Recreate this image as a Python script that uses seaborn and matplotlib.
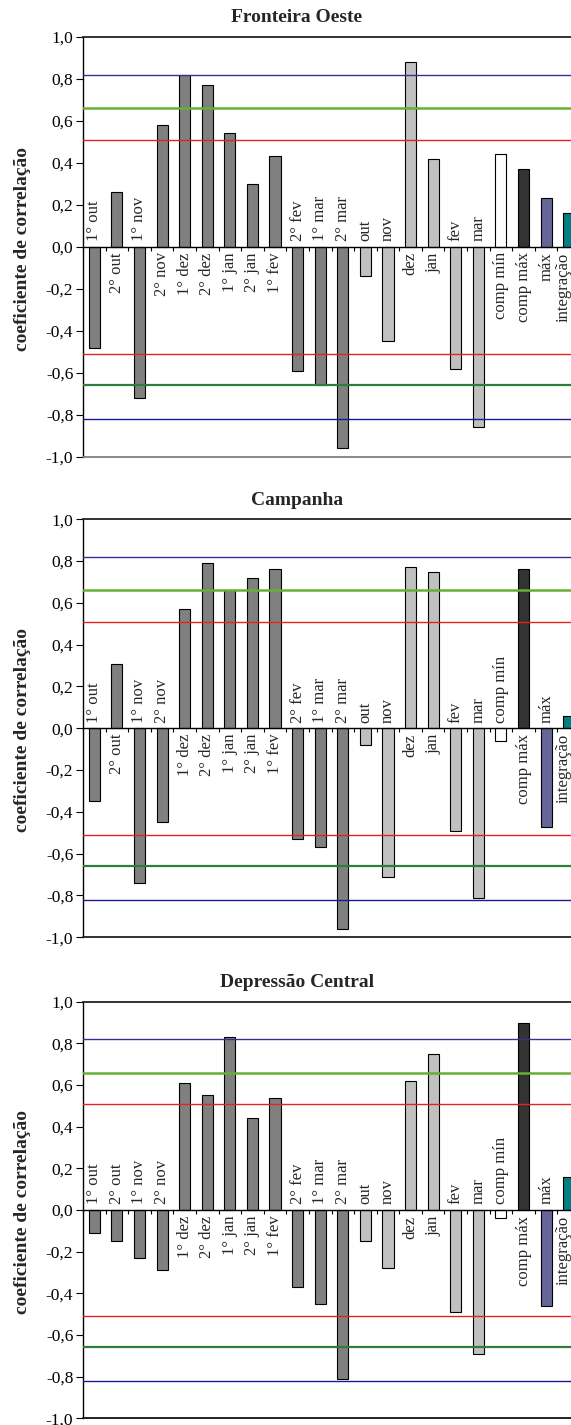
import numpy as np
import pandas as pd
import matplotlib
matplotlib.use("Agg")
import matplotlib.pyplot as plt
import seaborn as sns

# ---- data -------------------------------------------------------------
categorias = ["1° out", "2° out", "1° nov", "2° nov", "1° dez", "2° dez",
              "1° jan", "2° jan", "1° fev", "2° fev", "1° mar", "2° mar",
              "out", "nov", "dez", "jan", "fev", "mar",
              "comp mín", "comp máx", "máx", "integração"]

fronteira_oeste = [-0.48, 0.26, -0.72, 0.58, 0.82, 0.77, 0.54, 0.30, 0.43,
                   -0.59, -0.66, -0.96, -0.14, -0.45, 0.88, 0.42, -0.58,
                   -0.86, 0.44, 0.37, 0.23, 0.16]
campanha = [-0.35, 0.31, -0.74, -0.45, 0.57, 0.79, 0.66, 0.72, 0.76,
            -0.53, -0.57, -0.96, -0.08, -0.71, 0.77, 0.75, -0.49,
            -0.81, -0.06, 0.76, -0.47, 0.06]
depressao_central = [-0.11, -0.15, -0.23, -0.29, 0.61, 0.55, 0.83, 0.44, 0.54,
                     -0.37, -0.45, -0.81, -0.15, -0.28, 0.62, 0.75, -0.49,
                     -0.69, -0.04, 0.90, -0.46, 0.16]

regioes = ["Fronteira Oeste", "Campanha", "Depressão Central"]
series = [fronteira_oeste, campanha, depressao_central]

# significance thresholds of the correlation coefficient
limiares = [0.82, 0.66, 0.51, -0.51, -0.66, -0.82]
yticks = [-1.0, -0.8, -0.6, -0.4, -0.2, 0.0, 0.2, 0.4, 0.6, 0.8, 1.0]

# ---- styles -----------------------------------------------------------
cor_quinzena = "#808080"
cor_mes = "#C0C0C0"
cores_barras = ([cor_quinzena] * 12 + [cor_mes] * 6 +
                ["#FFFFFF", "#333333", "#666699", "#008080"])
paleta = dict(zip(categorias, cores_barras))

cores_limiares = ["#34309A", "#66B032", "#E82020", "#E82020", "#2E7D3A", "#1A1A99"]
larguras_limiares = [1.0, 1.8, 1.0, 1.0, 1.6, 1.0]
cores_base = ["#808080", "#222222", "#111111"]

sns.set_style("white")
plt.rcParams["font.family"] = ["Liberation Serif", "DejaVu Serif"]

W, H = 571, 1425
fig = plt.figure(figsize=(W / 100, H / 100), dpi=100)

# plot-area boxes in pixels: (left, top, right, bottom)
caixas = [(83, 36.7, 580, 456.7),
          (83, 519.3, 580, 937.3),
          (83, 1001.7, 580, 1418.3)]


def fracao(caixa):
    l, t, r, b = caixa
    return [l / W, 1 - b / H, (r - l) / W, (b - t) / H]


for regiao, valores, caixa, cor_base in zip(regioes, series, caixas, cores_base):
    ax = fig.add_axes(fracao(caixa))
    df = pd.DataFrame({"categoria": categorias, "coef": valores})
    sns.barplot(data=df, x="categoria", y="coef", hue="categoria",
                palette=paleta, saturation=1, width=0.49,
                edgecolor="black", linewidth=0.8, legend=False, ax=ax)

    for lim, c, lw in zip(limiares, cores_limiares, larguras_limiares):
        ax.axhline(lim, color=c, lw=lw, zorder=3)

    ax.set_xlim(-0.5, len(categorias) - 0.5)
    ax.set_ylim(-1.0, 1.0)
    ax.set_yticks(yticks)
    ax.set_yticklabels([f"{v:.1f}".replace(".", ",") for v in yticks])
    ax.set_xticks(np.arange(-0.5, len(categorias), 1.0))
    ax.set_xticklabels([])
    ax.set_xlabel("")
    ax.set_ylabel("")

    ax.spines["bottom"].set_position(("data", 0))
    ax.spines["bottom"].set_zorder(4)
    ax.spines["right"].set_visible(False)
    for s in ["left", "bottom"]:
        ax.spines[s].set_color("black")
        ax.spines[s].set_linewidth(1.0)
    ax.spines["top"].set_color("#222222")
    ax.spines["top"].set_linewidth(1.3)
    ax.axhline(-1.0, color=cor_base, lw=1.3, clip_on=False, zorder=4)

    ax.tick_params(axis="y", direction="out", length=5, width=0.8,
                   labelsize=12.5, pad=2, left=True, colors="black")
    ax.tick_params(axis="x", direction="out", length=3, width=0.8,
                   bottom=True, colors="black")

    # category names sit on the opposite side of the axis from their bar;
    # the last one is nudged left so it stays inside the figure
    n = len(categorias)
    for i, (cat, v) in enumerate(zip(categorias, valores)):
        dx = -4 if i == n - 1 else 0
        if v < 0:
            ax.annotate(cat, xy=(i, 0), xytext=(dx, 4), textcoords="offset points",
                        rotation=90, ha="center", va="bottom", fontsize=12)
        else:
            ax.annotate(cat, xy=(i, 0), xytext=(dx, -4), textcoords="offset points",
                        rotation=90, ha="center", va="top", fontsize=12)

    l, t, r, b = caixa
    fig.text(297 / W, 1 - (t - 19) / H, regiao, ha="center", va="center",
             fontsize=14, fontweight="bold")
    fig.text(23 / W, 1 - ((t + b) / 2 + 2) / H, "coeficiente de correlação",
             rotation=90, ha="center", va="center", fontsize=14,
             fontweight="bold")

fig.savefig("out.png", dpi=100)
